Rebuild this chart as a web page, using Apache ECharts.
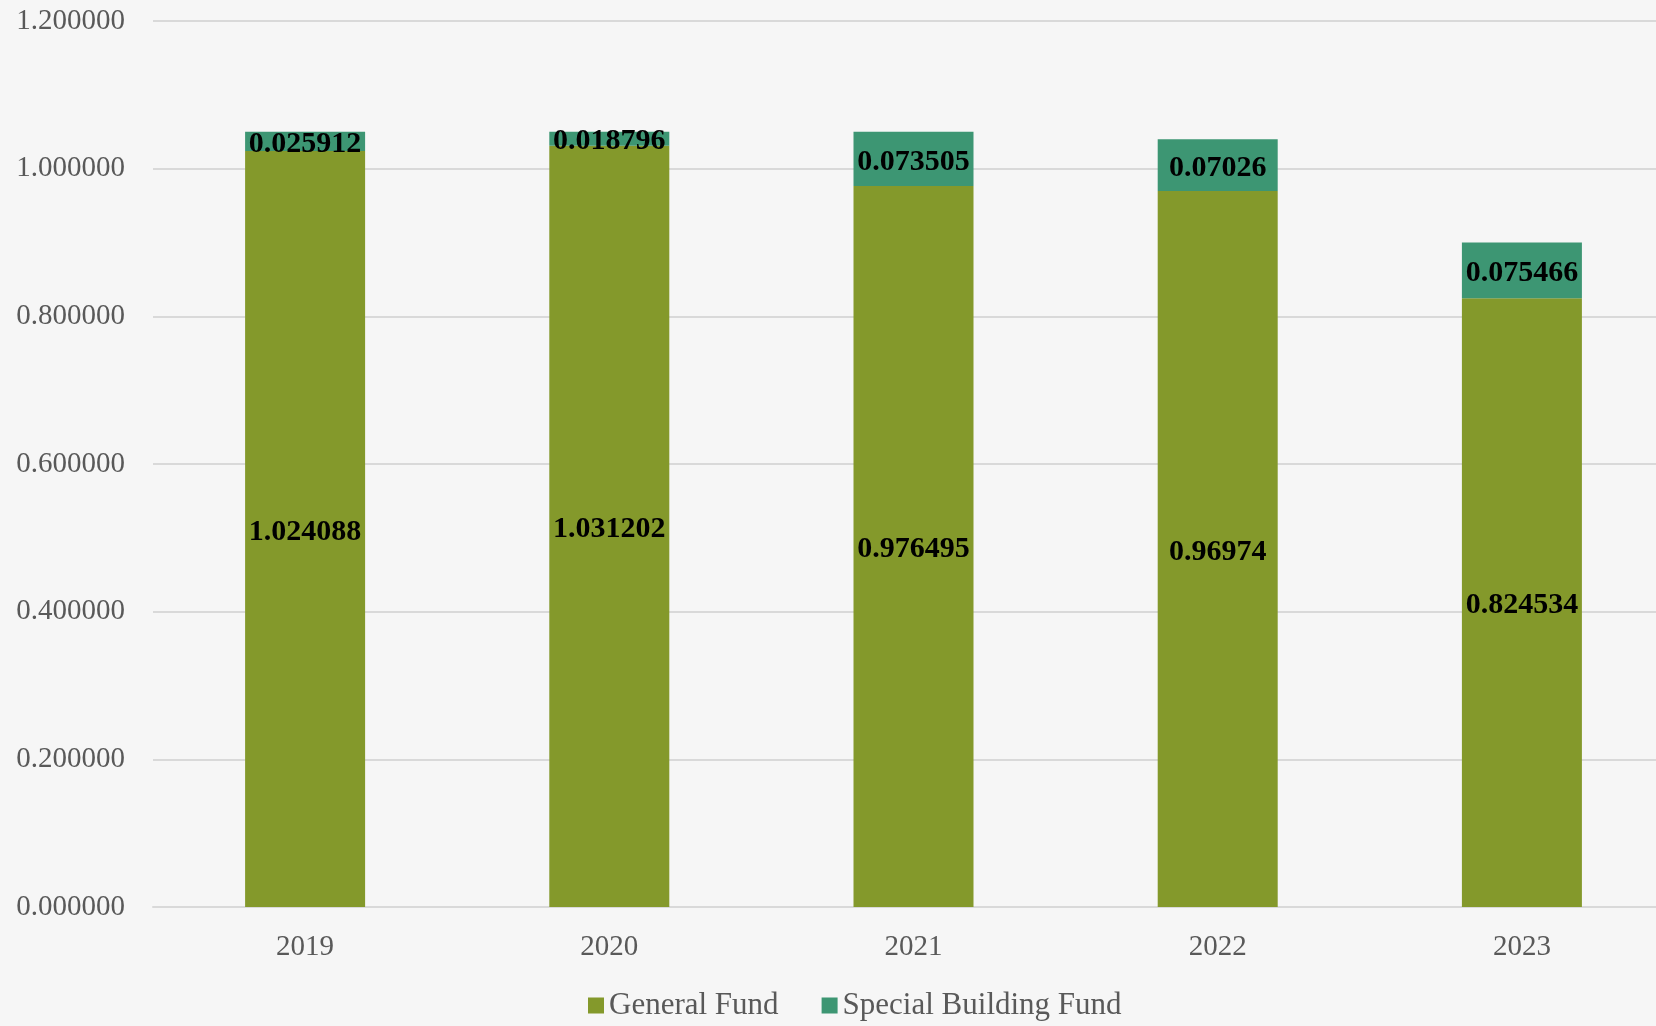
<!DOCTYPE html>
<html>
<head>
<meta charset="utf-8">
<script src="https://cdn.jsdelivr.net/npm/echarts@6/dist/echarts.min.js"></script>
<style>
html,body{margin:0;padding:0;background:#f6f6f6;}
#chart{width:1656px;height:1026px;}
</style>
</head>
<body>
<div id="chart"></div>
<script>
const categories = ['2019', '2020', '2021', '2022', '2023'];
const generalFund = [1.024088, 1.031202, 0.976495, 0.96974, 0.824534];
const specialBuildingFund = [0.025912, 0.018796, 0.073505, 0.07026, 0.075466];
const seriesNames = ['General Fund', 'Special Building Fund'];

const chart = echarts.init(document.getElementById('chart'));
const serif = '"Liberation Serif", "DejaVu Serif", serif';
const labelStyle = {
  show: true,
  position: 'inside',
  offset: [0, 3],
  color: '#000000',
  fontFamily: serif,
  fontWeight: 'bold',
  fontSize: 30,
  formatter: p => String(p.value)
};
chart.setOption({
  backgroundColor: '#f6f6f6',
  animation: false,
  grid: {left: 153, width: 1521, top: 21, bottom: 119, containLabel: false, outerBoundsMode: 'none'},
  legend: {
    bottom: 0,
    left: 583,
    itemWidth: 16,
    itemHeight: 16,
    itemGap: 43,
    icon: 'rect',
    textStyle: {fontFamily: serif, fontSize: 31, color: '#595959'},
    data: seriesNames
  },
  xAxis: {
    type: 'category',
    data: categories,
    axisLine: {show: true, lineStyle: {color: '#d9d9d9', width: 2}},
    axisTick: {show: false},
    axisLabel: {fontFamily: serif, fontSize: 29, color: '#595959', margin: 26}
  },
  yAxis: {
    type: 'value',
    min: 0,
    max: 1.2,
    interval: 0.2,
    axisLine: {show: false},
    axisTick: {show: false},
    splitLine: {lineStyle: {color: '#d9d9d9', width: 2}},
    axisLabel: {
      fontFamily: serif, fontSize: 29, color: '#595959', margin: 28,
      formatter: v => v.toFixed(6)
    }
  },
  series: [
    {
      name: seriesNames[0], type: 'bar', stack: 'total', barWidth: 120,
      itemStyle: {color: '#84992b'},
      label: labelStyle,
      data: generalFund
    },
    {
      name: seriesNames[1], type: 'bar', stack: 'total', barWidth: 120,
      itemStyle: {color: '#3d9673'},
      label: labelStyle,
      data: specialBuildingFund
    }
  ]
});
</script>
</body>
</html>
